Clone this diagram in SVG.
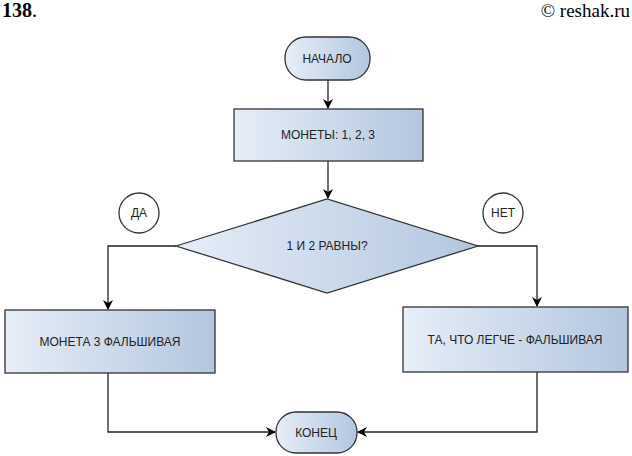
<svg xmlns="http://www.w3.org/2000/svg" width="632" height="456" viewBox="0 0 632 456">
<defs>
<linearGradient id="g" x1="0" y1="0" x2="1" y2="0"><stop offset="0" stop-color="#e6eef8"/><stop offset="1" stop-color="#b3c6df"/></linearGradient>
<marker id="a" markerWidth="10" markerHeight="10" refX="9" refY="5" orient="auto" markerUnits="userSpaceOnUse"><path d="M0,0 L10,5 L0,10 L3,5 z" fill="#000"/></marker>
</defs>
<style>
.n{fill:url(#g);stroke:#333;stroke-width:1.3}
.t{font-family:"Liberation Sans",Arial,sans-serif;font-size:12px;text-anchor:middle;fill:#222}
.c{fill:#fff;stroke:#333;stroke-width:1.3}
.l{fill:none;stroke:#222;stroke-width:1.3;marker-end:url(#a)}
</style>
<rect width="632" height="456" fill="#fff"/>
<text x="2" y="17" font-family="'Liberation Serif',serif" font-size="20" font-weight="bold">138<tspan font-weight="normal">.</tspan></text>
<text x="630" y="17" font-family="'Liberation Serif',serif" font-size="19" text-anchor="end">© reshak.ru</text>
<g id="connectors">
<line class="l" x1="328" y1="80" x2="328" y2="108"/>
<line class="l" x1="328" y1="161" x2="328" y2="198"/>
<polyline class="l" points="176,246 108,246 108,309"/>
<polyline class="l" points="478,246 537,246 537,306"/>
<polyline class="l" points="108,373 108,432 275,432"/>
<polyline class="l" points="537,372 537,432 358,432"/>
</g>
<g id="start"><rect class="n" x="285" y="37" width="85" height="43" rx="21"/><text class="t" x="327" y="63">НАЧАЛО</text></g>
<g id="coins"><rect class="n" x="234" y="109" width="189" height="52"/><text class="t" x="328" y="139">МОНЕТЫ: 1, 2, 3</text></g>
<g id="decision"><polygon class="n" points="176,246 327,199 478,246 327,293"/><text class="t" x="327" y="250">1 И 2 РАВНЫ?</text></g>
<g id="yes"><circle class="c" cx="139" cy="213" r="20"/><text class="t" x="139" y="217">ДА</text></g>
<g id="no"><circle class="c" cx="503" cy="213" r="20"/><text class="t" x="503" y="217">НЕТ</text></g>
<g id="fake3"><rect class="n" x="5" y="310" width="210" height="63"/><text class="t" x="110" y="346">МОНЕТА 3 ФАЛЬШИВАЯ</text></g>
<g id="lighter"><rect class="n" x="403" y="307" width="225" height="65"/><text class="t" x="515" y="344">ТА, ЧТО ЛЕГЧЕ - ФАЛЬШИВАЯ</text></g>
<g id="end"><rect class="n" x="276" y="412" width="81" height="41" rx="20"/><text class="t" x="316" y="437">КОНЕЦ</text></g>
</svg>
